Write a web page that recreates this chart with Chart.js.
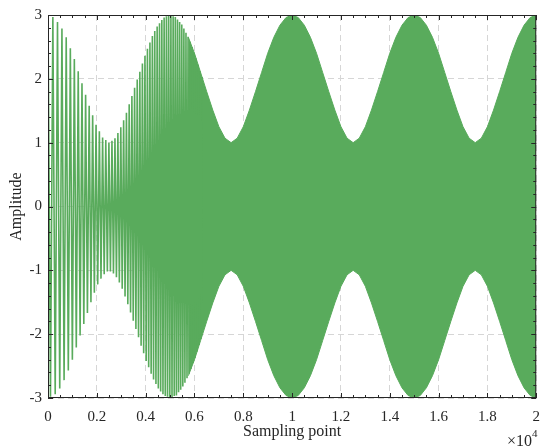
<!DOCTYPE html>
<html>
<head>
<meta charset="utf-8">
<script src="https://cdn.jsdelivr.net/npm/chart.js@4.4.1/dist/chart.umd.min.js"></script>
<style>
  html, body { margin: 0; padding: 0; background: #fff; }
  #wrap { width: 550px; height: 447px; }
</style>
</head>
<body>
<div id="wrap"><canvas id="c" width="550" height="447"></canvas></div>
<script>
// sparse part (left): sampling point of each peak / trough
const zigX = [
  0, 101, 199, 295, 389, 481, 571, 659, 746, 832,
  915, 998, 1079, 1159, 1238, 1315, 1392, 1467, 1541, 1615,
  1687, 1759, 1829, 1899, 1968, 2037, 2104, 2171, 2237, 2302,
  2367, 2431, 2495, 2557, 2620, 2681, 2743, 2803, 2863, 2923,
  2982, 3040, 3098, 3156, 3213, 3270, 3326, 3382, 3437, 3492,
  3547, 3601, 3655, 3709, 3762, 3814, 3867, 3919, 3971, 4022,
  4073, 4124, 4175, 4225, 4275, 4324, 4373, 4422, 4471, 4519,
  4568, 4615, 4663, 4710, 4757, 4804, 4851, 4897, 4943, 4989,
  5035, 5080, 5126, 5171, 5215, 5260, 5304, 5348, 5392, 5436,
  5480, 5523, 5566, 5609, 5652, 5694, 5737, 5779, 5821, 5863,
  5904, 5946, 5987, 6028, 6069, 6110, 6151, 6191, 6231, 6272, 6312
];
// height of each stroke (peaks up, troughs down, alternating)
const zigAmp = [
  3.00, 2.98, 2.97, 2.94, 2.89, 2.85, 2.79, 2.72, 2.65, 2.57,
  2.48, 2.40, 2.31, 2.21, 2.12, 2.02, 1.93, 1.84, 1.75, 1.67,
  1.58, 1.50, 1.43, 1.35, 1.28, 1.22, 1.18, 1.13, 1.08, 1.06,
  1.04, 1.02, 1.00, 1.02, 1.03, 1.05, 1.07, 1.11, 1.15, 1.19,
  1.24, 1.29, 1.35, 1.41, 1.47, 1.53, 1.60, 1.66, 1.73, 1.79,
  1.86, 1.92, 1.99, 2.05, 2.11, 2.18, 2.24, 2.30, 2.36, 2.42,
  2.47, 2.52, 2.57, 2.62, 2.67, 2.71, 2.75, 2.78, 2.82, 2.85,
  2.87, 2.90, 2.92, 2.94, 2.96, 2.97, 2.98, 2.98, 2.99, 3.00,
  2.99, 2.99, 2.98, 2.97, 2.97, 2.96, 2.93, 2.91, 2.89, 2.87,
  2.85, 2.82, 2.79, 2.76, 2.72, 2.69, 2.66, 2.62, 2.58, 2.54,
  2.50, 2.45, 2.41, 2.37, 2.32, 2.27, 2.22, 2.17, 2.12, 2.07, 2.03
];

// dense part (right): envelope of the oscillation
const envX = [
  5750, 6000, 6250, 6500, 6750, 7000, 7250, 7500, 7750, 8000,
  8250, 8500, 8750, 9000, 9250, 9500, 9750, 10000,
  10250, 10500, 10750, 11000, 11250, 11500, 11750, 12000, 12250, 12500,
  12750, 13000, 13250, 13500, 13750, 14000, 14250, 14500, 14750, 15000,
  15250, 15500, 15750, 16000, 16250, 16500, 16750, 17000, 17250, 17500,
  17750, 18000, 18250, 18500, 18750, 19000, 19250, 19500, 19750, 20000
];
const envTop = [
  2.65, 2.40, 2.10, 1.80, 1.51, 1.25, 1.07, 1.00, 1.07, 1.25,
  1.51, 1.80, 2.10, 2.40, 2.65, 2.84, 2.96, 3.00,
  2.96, 2.84, 2.65, 2.40, 2.10, 1.80, 1.51, 1.25, 1.07, 1.00,
  1.07, 1.25, 1.51, 1.80, 2.10, 2.40, 2.65, 2.84, 2.96, 3.00,
  2.96, 2.84, 2.65, 2.40, 2.10, 1.80, 1.51, 1.25, 1.07, 1.00,
  1.07, 1.25, 1.51, 1.80, 2.10, 2.40, 2.65, 2.84, 2.96, 3.00
];

const xTickLabels = ['0', '0.2', '0.4', '0.6', '0.8', '1', '1.2', '1.4', '1.6', '1.8', '2'];
const yTickLabels = ['-3', '-2', '-1', '0', '1', '2', '3'];

const green = '#59ab5c';
const ink = '#262626';
const serif = '"Liberation Serif", "Times New Roman", serif';

// box, inward ticks on all four sides, x10^4
const framePlugin = {
  id: 'frame',
  afterDraw(chart) {
    const { ctx, chartArea: a, scales: { x, y } } = chart;
    ctx.save();
    ctx.strokeStyle = ink;
    ctx.lineWidth = 1;
    ctx.beginPath();
    for (let v = 0; v <= 20000; v += 500) {
      const px = Math.round(x.getPixelForValue(v)) + 0.5;
      const len = v % 2000 === 0 ? 5 : 3;
      ctx.moveTo(px, a.bottom); ctx.lineTo(px, a.bottom - len);
      ctx.moveTo(px, a.top); ctx.lineTo(px, a.top + len);
    }
    for (let i = -15; i <= 15; i++) {
      const py = Math.round(y.getPixelForValue(i / 5)) + 0.5;
      const len = i % 5 === 0 ? 5 : 3;
      ctx.moveTo(a.left, py); ctx.lineTo(a.left + len, py);
      ctx.moveTo(a.right, py); ctx.lineTo(a.right - len, py);
    }
    ctx.stroke();
    ctx.strokeRect(a.left + 0.5, a.top + 0.5, a.right - a.left - 1, a.bottom - a.top - 1);

    ctx.fillStyle = ink;
    ctx.textBaseline = 'alphabetic';
    ctx.font = '16px ' + serif;
    ctx.textAlign = 'right';
    ctx.fillText('\u00d710', 532, 446);
    ctx.font = '11px ' + serif;
    ctx.textAlign = 'left';
    ctx.fillText('4', 532, 437);
    ctx.restore();
  }
};

new Chart(document.getElementById('c'), {
  type: 'line',
  data: {
    datasets: [
      {
        data: zigX.map((x, i) => ({ x, y: i % 2 === 0 ? zigAmp[i] : -zigAmp[i] })),
        borderColor: green,
        borderWidth: 1.6,
        borderJoinStyle: 'bevel',
        pointRadius: 0,
        fill: false
      },
      {
        data: envX.map((x, i) => ({ x, y: envTop[i] })),
        borderColor: green,
        backgroundColor: green,
        borderWidth: 1,
        pointRadius: 0,
        fill: '+1'
      },
      {
        data: envX.map((x, i) => ({ x, y: -envTop[i] })),
        borderColor: green,
        borderWidth: 1,
        pointRadius: 0,
        fill: false
      }
    ]
  },
  options: {
    responsive: false,
    animation: false,
    devicePixelRatio: 1,
    layout: { padding: { top: 10, right: 11, left: 0, bottom: 0 } },
    plugins: { legend: { display: false }, tooltip: { enabled: false } },
    scales: {
      x: {
        type: 'linear',
        min: 0,
        max: 20000,
        afterFit: s => { s.height = 49; },
        ticks: {
          stepSize: 2000,
          autoSkip: false,
          maxRotation: 0,
          padding: 10,
          color: ink,
          font: { family: serif, size: 15 },
          callback: (v, i) => xTickLabels[i]
        },
        grid: { color: '#d6d6d6', lineWidth: 1, drawTicks: false },
        border: { display: false, dash: [6, 4] },
        title: {
          display: true,
          text: 'Sampling point',
          color: ink,
          font: { family: serif, size: 16 },
          padding: { top: 0, bottom: 6 }
        }
      },
      y: {
        min: -3,
        max: 3,
        afterFit: s => { s.width = 48; },
        ticks: {
          stepSize: 1,
          padding: 6,
          color: ink,
          font: { family: serif, size: 15 },
          callback: (v, i) => yTickLabels[i]
        },
        grid: { color: '#d6d6d6', lineWidth: 1, drawTicks: false },
        border: { display: false, dash: [6, 4] },
        title: {
          display: true,
          text: 'Amplitude',
          color: ink,
          font: { family: serif, size: 16 },
          padding: { top: 7, bottom: 0 }
        }
      }
    }
  },
  plugins: [framePlugin]
});
</script>
</body>
</html>
